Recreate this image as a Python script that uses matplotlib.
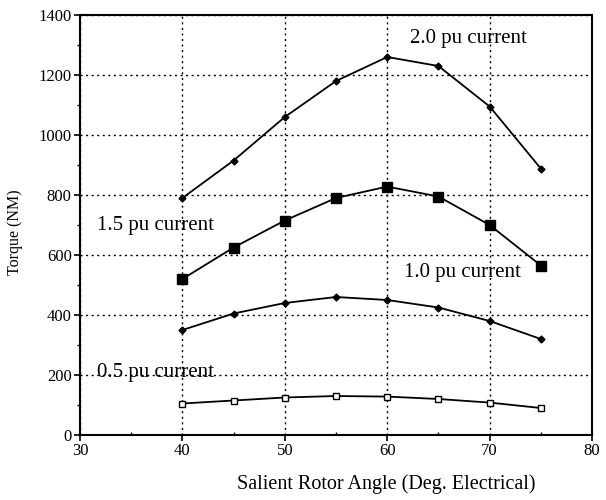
import matplotlib
matplotlib.use("Agg")
import matplotlib.pyplot as plt
from matplotlib.ticker import MultipleLocator

# rotor angle (deg. electrical)
angle = [40, 45, 50, 55, 60, 65, 70, 75]

# torque (NM) at each current level
torque_2_0 = [790, 915, 1060, 1180, 1260, 1230, 1095, 888]
torque_1_5 = [520, 625, 715, 790, 828, 795, 700, 565]
torque_1_0 = [350, 405, 440, 460, 450, 425, 380, 320]
torque_0_5 = [105, 115, 125, 130, 128, 120, 108, 90]

curve_labels = ["2.0 pu current", "1.5 pu current", "1.0 pu current", "0.5 pu current"]

plt.rcParams["font.family"] = ["Liberation Serif", "DejaVu Serif"]

fig = plt.figure(figsize=(6.06, 5.0), dpi=100)
ax = fig.add_axes([0.132, 0.13, 0.845, 0.84])

ax.plot(angle, torque_2_0, color="black", lw=1.3, marker="D", ms=3.5)
ax.plot(angle, torque_1_5, color="black", lw=1.3, marker="s", ms=6.5)
ax.plot(angle, torque_1_0, color="black", lw=1.3, marker="D", ms=3.5)
ax.plot(angle, torque_0_5, color="black", lw=1.3, marker="s", ms=5,
        markerfacecolor="white", markeredgewidth=1.0)

ax.set_xlim(30, 80)
ax.set_ylim(0, 1400)
ax.xaxis.set_major_locator(MultipleLocator(10))
ax.xaxis.set_minor_locator(MultipleLocator(5))
ax.yaxis.set_major_locator(MultipleLocator(200))
ax.yaxis.set_minor_locator(MultipleLocator(100))
ax.grid(True, which="major", color="black", linestyle=(0, (1.5, 2.5)), lw=1.0)
ax.tick_params(axis="both", which="major", labelsize=12, direction="out", length=4, width=1.2, pad=2)
ax.tick_params(axis="y", which="minor", direction="out", length=2.5, width=1.0)
ax.tick_params(axis="x", which="minor", direction="in", length=2.5, width=1.0)

for side in ax.spines.values():
    side.set_linewidth(1.5)

ax.set_xlabel("Salient Rotor Angle (Deg. Electrical)", fontsize=14.5)
ax.xaxis.set_label_coords(0.598, -0.093)
ax.set_ylabel("Torque (NM)", fontsize=11.5)
ax.yaxis.set_label_coords(-0.111, 0.483)

ax.text(62.2, 1323, curve_labels[0], fontsize=15, va="center")
ax.text(31.7, 697, curve_labels[1], fontsize=15, va="center")
ax.text(61.6, 540, curve_labels[2], fontsize=15, va="center")
ax.text(31.7, 207, curve_labels[3], fontsize=15, va="center")

fig.savefig("out.png", dpi=100, facecolor="white")
